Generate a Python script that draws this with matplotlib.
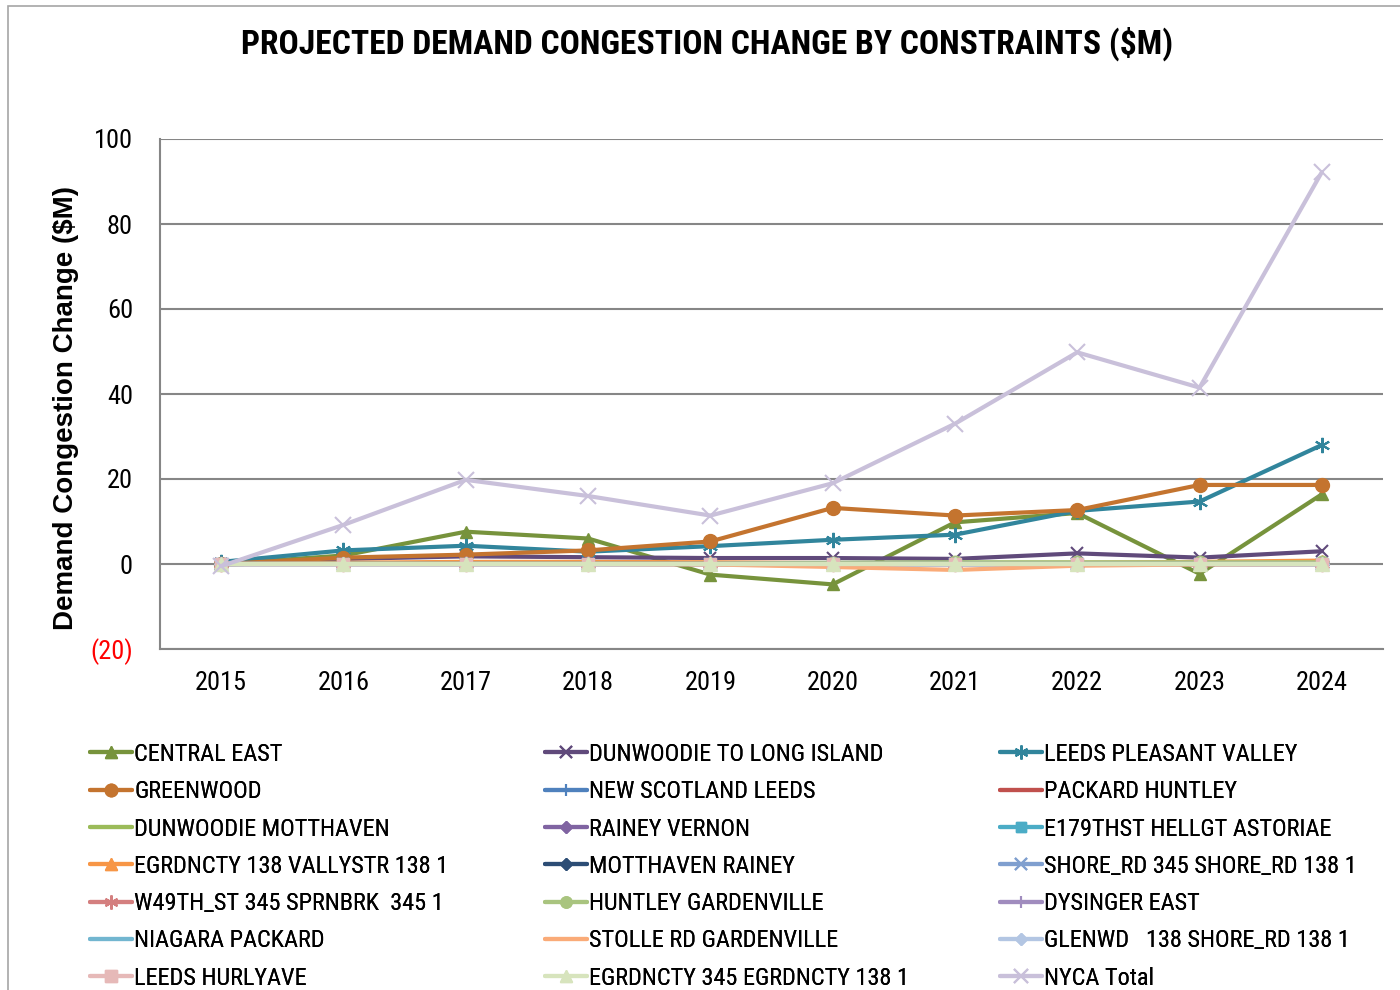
import matplotlib
matplotlib.use("Agg")
import matplotlib.pyplot as plt
from matplotlib.patches import Rectangle
from matplotlib import font_manager
import numpy as np

years = ["2015", "2016", "2017", "2018", "2019", "2020", "2021", "2022", "2023", "2024"]

central_east = [0.0, 2.0, 7.6, 6.0, -2.5, -4.8, 9.8, 12.0, -2.3, 16.4]
dunwoodie_li = [0.0, 1.2, 1.8, 1.6, 1.4, 1.4, 1.2, 2.5, 1.5, 3.0]
leeds_pv = [0.5, 3.2, 4.3, 2.9, 4.2, 5.7, 6.9, 12.5, 14.7, 28.0]
greenwood = [0.0, 1.5, 2.2, 3.2, 5.3, 13.2, 11.4, 12.7, 18.6, 18.6]
new_scotland = [0.0, 0.1, 0.1, 0.1, 0.0, 0.0, 0.0, 0.0, 0.0, 0.0]
packard_huntley = [0.0, 0.0, 0.0, 0.0, 0.0, 0.0, 0.0, 0.0, 0.0, 0.0]
dunwoodie_mott = [0.0, 0.1, 0.1, 0.1, 0.1, 0.2, 0.3, 0.3, 0.3, 0.3]
rainey_vernon = [0.0, 0.1, 0.2, 0.2, 0.2, 0.2, 0.2, 0.2, 0.2, 0.3]
e179 = [0.0, 0.0, 0.0, 0.0, 0.0, 0.0, 0.0, 0.0, 0.0, 0.0]
egrd_138 = [0.0, 0.3, 0.5, 0.5, 0.4, 0.2, 0.2, 0.3, 0.5, 0.8]
motthaven_rainey = [0.0, 0.0, 0.0, 0.0, 0.0, 0.0, 0.0, 0.0, 0.0, 0.0]
shore_rd = [0.0, 0.0, 0.0, 0.0, 0.0, 0.0, 0.0, 0.0, 0.0, 0.0]
w49th = [0.0, 0.0, 0.0, 0.0, 0.0, 0.0, 0.0, 0.0, 0.0, 0.0]
huntley_gard = [0.0, 0.1, 0.1, 0.1, 0.1, 0.3, 0.4, 0.4, 0.4, 0.4]
dysinger = [0.0, 0.0, 0.0, 0.0, 0.0, 0.0, 0.0, 0.0, 0.0, 0.0]
niagara = [0.0, 0.0, 0.0, 0.0, 0.0, 0.0, 0.0, 0.0, 0.0, 0.0]
stolle = [0.0, 0.0, 0.0, 0.0, -0.1, -0.7, -1.4, -0.4, -0.1, 0.0]
glenwd = [0.0, 0.0, 0.0, 0.0, 0.0, 0.0, 0.0, 0.0, 0.0, 0.0]
leeds_hurly = [0.0, 0.0, 0.0, 0.0, 0.0, 0.0, 0.0, 0.0, 0.0, 0.0]
egrd_345 = [0.0, 0.0, 0.0, 0.0, 0.0, 0.0, 0.0, 0.0, 0.0, 0.0]
nyca_total = [-0.5, 9.2, 19.8, 16.0, 11.4, 19.0, 33.0, 49.8, 41.5, 92.2]

series_names = [
    "CENTRAL EAST", "DUNWOODIE TO LONG ISLAND", "LEEDS PLEASANT VALLEY",
    "GREENWOOD", "NEW SCOTLAND LEEDS", "PACKARD HUNTLEY",
    "DUNWOODIE MOTTHAVEN", "RAINEY VERNON", "E179THST HELLGT ASTORIAE",
    "EGRDNCTY 138 VALLYSTR 138 1", "MOTTHAVEN RAINEY", "SHORE_RD 345 SHORE_RD 138 1",
    "W49TH_ST 345 SPRNBRK  345 1", "HUNTLEY GARDENVILLE", "DYSINGER EAST",
    "NIAGARA PACKARD", "STOLLE RD GARDENVILLE", "GLENWD   138 SHORE_RD 138 1",
    "LEEDS HURLYAVE", "EGRDNCTY 345 EGRDNCTY 138 1", "NYCA Total",
]
series_values = [
    central_east, dunwoodie_li, leeds_pv, greenwood, new_scotland, packard_huntley,
    dunwoodie_mott, rainey_vernon, e179, egrd_138, motthaven_rainey, shore_rd,
    w49th, huntley_gard, dysinger, niagara, stolle, glenwd, leeds_hurly, egrd_345,
    nyca_total,
]
AST = (6, 2, 0)
styles = [
    ("#77933C", "^", 9), ("#604A7B", "x", 9), ("#31859C", AST, 11),
    ("#C4742F", "o", 10), ("#4F81BD", "|", 10), ("#C0504D", None, 0),
    ("#9BBB59", None, 0), ("#8064A2", "D", 7), ("#4BACC6", "s", 8),
    ("#F79646", "^", 9), ("#2C4D75", "D", 7), ("#7F9FCF", "x", 9),
    ("#D47F7F", AST, 11), ("#A9C47F", "o", 9), ("#A08CBE", "|", 10),
    ("#72B6D0", None, 0), ("#FAAB78", None, 0), ("#B3C6E3", "D", 7),
    ("#E6B9B8", "s", 9), ("#D7E4BD", "^", 10), ("#C9C0DA", "x", 11),
]

available = {f.name for f in font_manager.fontManager.ttflist}
narrow_font = None
for cand in ["Arial Narrow", "Liberation Sans Narrow", "Roboto Condensed",
             "Archivo Narrow", "PT Sans Narrow", "Sofia Sans Condensed"]:
    if cand in available:
        narrow_font = cand
        break
if narrow_font is None:
    narrow_font = "Liberation Sans"
    scale = 0.82
else:
    scale = 1.0
plt.rcParams["font.family"] = [narrow_font, "Liberation Sans", "DejaVu Sans"]
FS = 17.5 * scale
TFS = 19 * scale

W, H = 1400, 990
fig = plt.figure(figsize=(W / 100, H / 100), dpi=100)
fig.patches.append(Rectangle((8 / W, -0.05), 1.2, 1 - 6 / H + 0.05, transform=fig.transFigure,
                             fill=False, edgecolor="#A6A6A6", linewidth=1.2))

ax = fig.add_axes([160 / W, 1 - 649 / H, (1383 - 160) / W, (649 - 139) / H])
x = np.arange(len(years)) + 0.5
handles = []
for name, vals, (c, m, ms) in zip(series_names, series_values, styles):
    kw = dict(color=c, linewidth=3.0, solid_capstyle="round", solid_joinstyle="round", label=name)
    if m is not None:
        kw.update(marker=m, markersize=ms, markerfacecolor=c, markeredgecolor=c,
                  markeredgewidth=1.5 if m in ("x", "|", AST) else 1.0)
    h, = ax.plot(x, vals, **kw)
    handles.append(h)

ax.set_xlim(0, len(years))
ax.set_ylim(-20, 100)
ax.set_yticks([-20, 0, 20, 40, 60, 80, 100])
ax.set_yticklabels(["(20)", "0", "20", "40", "60", "80", "100"])
ax.get_yticklabels()[0].set_color("red")
ax.set_xticks(x)
ax.set_xticklabels(years)
ax.tick_params(axis="both", length=0, labelsize=TFS)
ax.tick_params(axis="y", pad=19.5)
ax.tick_params(axis="x", pad=16)
ax.grid(axis="y", color="#868686", linewidth=1.5)
ax.set_axisbelow(True)
for s in ("top", "right"):
    ax.spines[s].set_visible(False)
for s in ("left", "bottom"):
    ax.spines[s].set_color("#868686")
    ax.spines[s].set_linewidth(1.5)

ax.set_ylabel("Demand Congestion Change ($M)", fontsize=20, fontweight="bold",
              family=["Liberation Sans", "DejaVu Sans"])
ax.yaxis.set_label_coords(-(160 - 79) / (1383 - 160), (649 - 408) / (649 - 139))

fig.text(707 / W, 1 - 44 / H, "PROJECTED DEMAND CONGESTION CHANGE BY CONSTRAINTS ($M)",
         ha="center", va="center", fontsize=24.2 * scale, fontweight="bold")

col_x = [90, 545, 1000]
for ci in range(3):
    hs = [handles[r * 3 + ci] for r in range(7)]
    leg = fig.legend(handles=hs, labels=[h.get_label() for h in hs],
                     loc="upper left", bbox_to_anchor=(col_x[ci] / W, 1 - 743 / H),
                     frameon=False, fontsize=FS, handlelength=30 / FS, handletextpad=2 / FS,
                     borderpad=0, borderaxespad=0, labelspacing=0.587, markerscale=0.9)
    fig.add_artist(leg)

fig.savefig("out.png", dpi=100)
